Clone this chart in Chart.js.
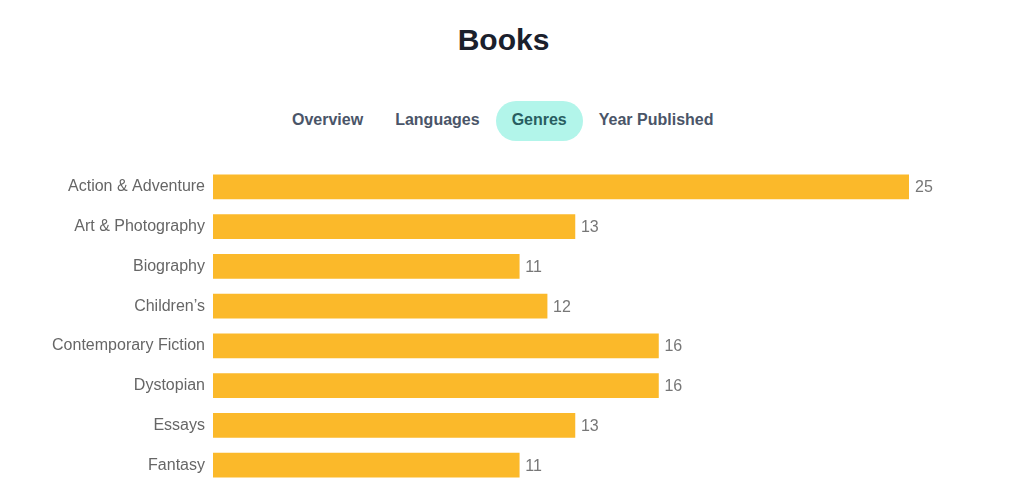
<!DOCTYPE html>
<html>
<head>
<meta charset="utf-8">
<script src="https://cdn.jsdelivr.net/npm/chart.js@4"></script>
<style>
  html, body { margin: 0; padding: 0; background: #fff; }
  body { width: 1035px; height: 484px; position: relative; overflow: hidden; font-family: "Liberation Sans", Arial, sans-serif; }
  h1 { position: absolute; top: 20px; left: 0; width: 1007px; margin: 0; text-align: center; font-size: 30px; font-weight: bold; color: #1a202c; line-height: 40px; }
  .tabs { position: absolute; top: 101px; left: 276px; height: 40px; display: flex; }
  .tab { height: 40px; line-height: 38px; padding: 0 16px; font-size: 16px; font-weight: bold; color: #4a5568; border-radius: 20px; }
  .tab.active { background: #b2f5ea; color: #285e61; }
  .chart-box { position: absolute; top: 167px; left: 0; width: 1035px; height: 318px; }
</style>
</head>
<body>
<h1>Books</h1>
<div class="tabs">
  <div class="tab">Overview</div>
  <div class="tab">Languages</div>
  <div class="tab active">Genres</div>
  <div class="tab">Year Published</div>
</div>
<div class="chart-box"><canvas class="chart-js"></canvas></div>
<script>
let genres = [
    'Action & Adventure',
    'Art & Photography',
    'Biography',
    'Children\u2019s',
    'Contemporary Fiction',
    'Dystopian',
    'Essays',
    'Fantasy'
];
let bookCounts = [25, 13, 11, 12, 16, 16, 13, 11];

// draws the count just right of each bar
let valueLabels = {
    id: 'valueLabels',
    afterDatasetsDraw(chart) {
        let ctx = chart.ctx;
        let meta = chart.getDatasetMeta(0);
        ctx.save();
        ctx.font = '16px "Liberation Sans", Arial, sans-serif';
        ctx.fillStyle = '#777';
        ctx.textAlign = 'left';
        ctx.textBaseline = 'middle';
        meta.data.forEach((bar, i) => {
            ctx.fillText(bookCounts[i], bar.x + 6, bar.y + 1);
        });
        ctx.restore();
    }
};

let data = {
    labels: genres,
    datasets: [{
        data: bookCounts,
        backgroundColor: '#fbb92a',
        barThickness: 24
    }]
};

let options = {
    indexAxis: 'y',
    responsive: true,
    maintainAspectRatio: false,
    animation: false,
    layout: { padding: { top: 0, right: 126, bottom: 0, left: 0 } },
    plugins: {
        legend: { display: false },
        tooltip: { enabled: false }
    },
    scales: {
        x: {
            display: false,
            min: 0,
            max: 25
        },
        y: {
            grid: { display: false, drawTicks: false },
            border: { display: false },
            ticks: {
                color: '#666',
                padding: 8,
                font: { size: 16, family: '"Liberation Sans", Arial, sans-serif' }
            },
            afterFit(scale) {
                scale.width = 213;
                scale.paddingTop = 0;
                scale.paddingBottom = 0;
            }
        }
    }
};

function createChart() {
    new Chart(document.querySelector('.chart-js'), {
        type: 'bar',
        data: data,
        options: options,
        plugins: [valueLabels]
    });
}
createChart();
</script>
</body>
</html>
